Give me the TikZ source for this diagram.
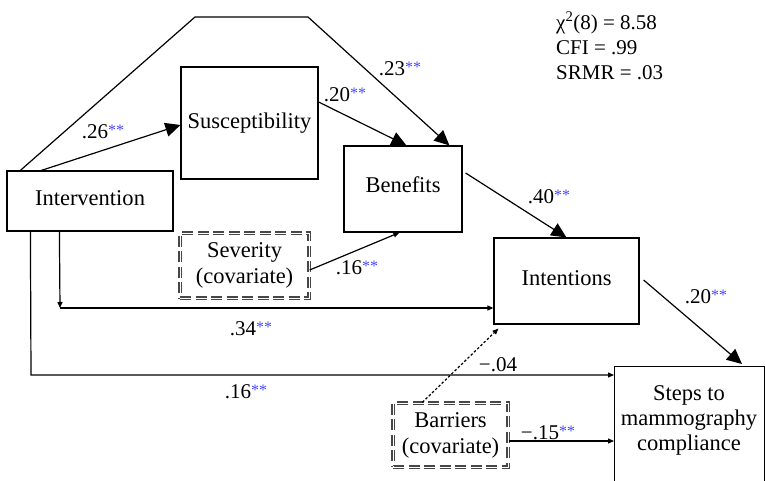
\documentclass[tikz,border=0pt]{standalone}
\usepackage{fontspec}
\setmainfont{Liberation Serif}
\usetikzlibrary{arrows.meta,calc}
\definecolor{starblue}{RGB}{70,70,255}
\newcommand{\sig}{\textcolor{starblue}{\raisebox{3pt}{\fontsize{16}{16}\selectfont **}}}
\begin{document}
\begin{tikzpicture}[x=1pt,y=-1pt,
  box/.style={draw, line width=1.2pt, rectangle, inner sep=0pt, font=\fontsize{22.5}{26}\selectfont, align=center},
  dbox/.style={draw=black!72, dash pattern=on 11pt off 4.5pt, double=white, double distance=0.6pt, line width=1.3pt, rectangle, inner sep=0pt, font=\fontsize{22.5}{26}\selectfont, align=center},
  txt/.style={inner sep=0pt, font=\fontsize{22.5}{25}\selectfont, align=center},
  lbl/.style={inner sep=0pt, font=\fontsize{21}{25}\selectfont},
  conn/.style={line width=1.2pt},
  big/.style={conn, -{Triangle[length=15pt,width=14pt]}},
  small/.style={conn, -{Triangle[length=6pt,width=5pt]}}
]
\useasboundingbox (0,0) rectangle (765,481);

% boxes
\node[box, minimum width=166pt, minimum height=60pt, text depth=6pt] (int) at (90,201) {Intervention};
\node[box, minimum width=137pt, minimum height=112pt] (sus) at (249.5,123) {Susceptibility};
\node[box, minimum width=118pt, minimum height=86pt, text depth=8pt] (ben) at (403,189) {Benefits};
\node[box, minimum width=145pt, minimum height=86pt, text depth=6pt] (inten) at (566.5,281) {Intentions};
\node[box, minimum width=150pt, minimum height=124pt, anchor=north west] (steps) at (614,366) {};
\node[txt] (stepst) at (689,420) {Steps to\\mammography\\compliance};
\node[dbox, minimum width=129pt, minimum height=65pt] (sev) at (244.5,265.5) {Severity\\(covariate)};
\node[dbox, minimum width=115pt, minimum height=64pt] (bar) at (450.5,435) {Barriers\\(covariate)};

% bend points
\coordinate (tl) at (195,17);
\coordinate (tr) at (308,17);
\coordinate (c1) at (60,308);
\coordinate (c2) at (31,375);
\coordinate (bs) at ($(bar.east)+(0,6)$);

% connectors
\draw[big] ($(int.north west)+(14,0)$) -- (tl) -- (tr) -- ($(ben.north west)+(106,0)$);
\draw[big] ($(int.north west)+(35,0)$) -- ($(sus.west)+(0,2)$);
\draw[big] ($(sus.east)+(0,-21)$) -- ($(ben.north west)+(63,0)$);
\draw[big] ($(ben.east)+(3,-16)$) -- ($(inten.north west)+(73,0)$);
\draw[small] ($(sev.east)+(0,4.5)$) -- ($(ben.south west)+(56,0)$);
\draw[small] ($(int.south west)+(53,0)$) -- (c1);
\draw[small] (c1) -- (c1 -| inten.west);
\draw[small] ($(int.south west)+(24,0)$) -- (c2) -- (c2 -| steps.west);
\draw[small, dash pattern=on 2.5pt off 2pt] ($(bar.north west)+(30,0)$) -- ($(inten.south west)+(5,4)$);
\draw[small] (bs) -- (bs -| steps.west);
\draw[big] ($(inten.east)+(4,-1)$) -- ($(steps.north west)+(128,-2)$);

% labels
\node[lbl] (l26) at (103,132) {.26\sig};
\node[lbl] (l23) at (400,69) {.23\sig};
\node[lbl] (l20a) at (345,95) {.20\sig};
\node[lbl] (l40) at (549,197) {.40\sig};
\node[lbl] (l16a) at (357,268) {.16\sig};
\node[lbl] (l34) at (251,329) {.34\sig};
\node[lbl] (l16b) at (246,392) {.16\sig};
\node[lbl] (l04) at (498,365) {−.04};
\node[lbl] (l15) at (548,433) {−.15\sig};
\node[lbl] (l20b) at (706,297) {.20\sig};

% fit statistics
\node[lbl, align=left, anchor=west] (fit) at (556,46) {χ\textsuperscript{2}(8) = 8.58\\CFI = .99\\SRMR = .03};
\end{tikzpicture}
\end{document}
